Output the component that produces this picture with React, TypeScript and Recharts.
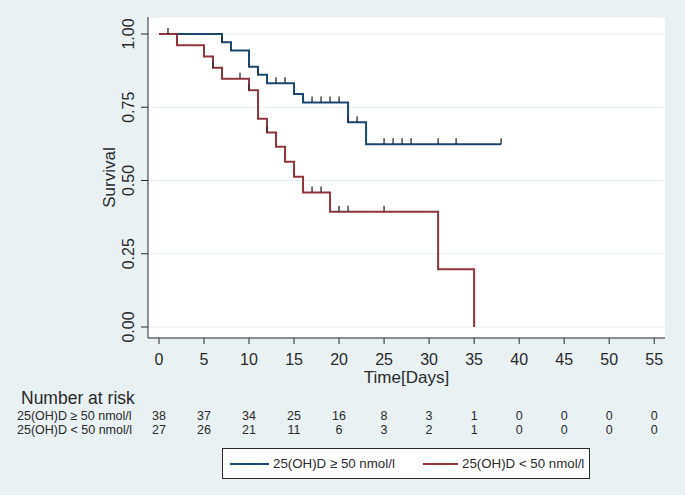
import React from "react";
import {
  ComposedChart,
  Line,
  XAxis,
  YAxis,
  CartesianGrid,
  Legend,
} from "recharts";

// Kaplan-Meier steps
const highStepTimes = [0, 7, 8, 10, 11, 12, 15, 16, 21, 23];
const highStepSurv = [1.0, 0.972, 0.944, 0.888, 0.861, 0.832, 0.795, 0.766, 0.699, 0.624];
const highCensored = [7, 11, 13, 14, 17, 18, 19, 20, 21, 22, 25, 26, 27, 28, 31, 33, 38];

const lowStepTimes = [0, 2, 5, 6, 7, 10, 11, 12, 13, 14, 15, 16, 19, 31, 35];
const lowStepSurv = [1.0, 0.962, 0.923, 0.885, 0.847, 0.808, 0.711, 0.664, 0.615, 0.564, 0.513, 0.459, 0.393, 0.197, 0.0];
const lowCensored = [1, 6, 9, 10, 12, 17, 18, 20, 21, 25];

const timeTicks = [0, 5, 10, 15, 20, 25, 30, 35, 40, 45, 50, 55];
const survTicks = [0, 0.25, 0.5, 0.75, 1];

const riskHigh = [38, 37, 34, 25, 16, 8, 3, 1, 0, 0, 0, 0];
const riskLow = [27, 26, 21, 11, 6, 3, 2, 1, 0, 0, 0, 0];

const highName = "25(OH)D \u2265 50 nmol/l";
const lowName = "25(OH)D < 50 nmol/l";

const BLUE = "#1a476f";
const RED = "#90353b";
const INK = "#2a2a2a";
const FONT = "'Liberation Sans', Arial, sans-serif";
const PLOT_BOTTOM = 338;
const ROW1_Y = 419.5;
const ROW2_Y = 434;

type Row = { t: number; s: number; censored: boolean };

// merge step points and censor marks into one list for a stepAfter line
function buildRows(times: number[], surv: number[], cens: number[]): Row[] {
  const rows: Row[] = times.map((t, i) => ({ t, s: surv[i], censored: false }));
  cens.forEach((c) => {
    const same = rows.find((r) => r.t === c);
    if (same) {
      same.censored = true;
      return;
    }
    let s = surv[0];
    times.forEach((t, i) => {
      if (t <= c) s = surv[i];
    });
    rows.push({ t: c, s, censored: true });
  });
  return rows.sort((a, b) => a.t - b.t);
}

const highRows = buildRows(highStepTimes, highStepSurv, highCensored);
const lowRows = buildRows(lowStepTimes, lowStepSurv, lowCensored);

const CensorMark = (props: any) => {
  const { cx, cy, payload, index } = props;
  if (!payload || !payload.censored) return <g key={`n${index}`} />;
  return (
    <line
      key={`c${index}`}
      x1={cx}
      x2={cx}
      y1={cy}
      y2={cy - 6}
      stroke={INK}
      strokeWidth={1.3}
    />
  );
};

const TimeTick = (props: any) => {
  const { x, payload } = props;
  const i = timeTicks.indexOf(payload.value);
  return (
    <g fontFamily={FONT}>
      <text x={x} y={PLOT_BOTTOM + 27} textAnchor="middle" fontSize={16} fill={INK}>
        {payload.value}
      </text>
      <text x={x} y={ROW1_Y} textAnchor="middle" fontSize={12.5} fill={INK}>
        {riskHigh[i]}
      </text>
      <text x={x} y={ROW2_Y} textAnchor="middle" fontSize={12.5} fill={INK}>
        {riskLow[i]}
      </text>
      {i === 0 && (
        <g>
          <text x={21} y={404} fontSize={17.5} fill={INK}>
            Number at risk
          </text>
          <text x={17} y={ROW1_Y} fontSize={12.5} fill={INK}>
            {highName}
          </text>
          <text x={17} y={ROW2_Y} fontSize={12.5} fill={INK}>
            {lowName}
          </text>
        </g>
      )}
    </g>
  );
};

const SurvTick = (props: any) => {
  const { y, payload } = props;
  return (
    <text
      transform={`translate(133.5, ${y}) rotate(-90)`}
      textAnchor="middle"
      fontSize={16}
      fontFamily={FONT}
      fill={INK}
    >
      {payload.value.toFixed(2)}
    </text>
  );
};

const SurvLabel = (props: any) => {
  const vb = props.viewBox || { y: 17, height: 321 };
  return (
    <text
      transform={`translate(115, ${vb.y + vb.height / 2}) rotate(-90)`}
      textAnchor="middle"
      fontSize={17}
      fontFamily={FONT}
      fill={INK}
    >
      Survival
    </text>
  );
};

const LegendBox = () => (
  <div
    style={{
      width: 368,
      height: 31,
      boxSizing: "border-box",
      border: `1px solid ${INK}`,
      background: "#fff",
      position: "relative",
      fontFamily: FONT,
      fontSize: 13.3,
      color: INK,
    }}
  >
    <div style={{ position: "absolute", left: 7, top: 14, width: 39, height: 2, background: BLUE }} />
    <div style={{ position: "absolute", left: 50, top: 7, lineHeight: "16px", whiteSpace: "nowrap" }}>
      {highName}
    </div>
    <div style={{ position: "absolute", left: 200, top: 14, width: 35, height: 2, background: RED }} />
    <div style={{ position: "absolute", left: 239, top: 7, lineHeight: "16px", whiteSpace: "nowrap" }}>
      {lowName}
    </div>
  </div>
);

export default function App() {
  return (
    <div
      style={{
        position: "absolute",
        left: 0,
        top: 0,
        width: 685,
        height: 495,
        background: "#e9f1f3",
      }}
    >
      <ComposedChart
        width={685}
        height={495}
        margin={{ top: 17, right: 20, bottom: 97, left: 0 }}
      >
        <CartesianGrid vertical={false} stroke="#e8eeef" fill="#ffffff" />
        <XAxis
          dataKey="t"
          type="number"
          domain={[-1.22, 56.2]}
          ticks={timeTicks}
          allowDataOverflow
          height={60}
          tickSize={6}
          stroke={INK}
          tickLine={{ stroke: INK }}
          axisLine={{ stroke: INK }}
          tick={<TimeTick />}
          label={{
            value: "Time[Days]",
            position: "insideTop",
            offset: 33,
            fontSize: 17,
            fontFamily: FONT,
            fill: INK,
          }}
        />
        <YAxis
          type="number"
          domain={[-0.0375, 1.058]}
          ticks={survTicks}
          allowDataOverflow
          width={148}
          tickSize={7}
          stroke={INK}
          tickLine={{ stroke: INK }}
          axisLine={{ stroke: INK }}
          tick={<SurvTick />}
          label={<SurvLabel />}
        />
        <Legend
          layout="vertical"
          align="center"
          verticalAlign="middle"
          wrapperStyle={{ left: 222, top: 448, width: 368, height: 31 }}
          content={<LegendBox />}
        />
        <Line
          data={highRows}
          dataKey="s"
          name={highName}
          type="stepAfter"
          stroke={BLUE}
          strokeWidth={2}
          dot={CensorMark}
          activeDot={false}
          isAnimationActive={false}
        />
        <Line
          data={lowRows}
          dataKey="s"
          name={lowName}
          type="stepAfter"
          stroke={RED}
          strokeWidth={2}
          dot={CensorMark}
          activeDot={false}
          isAnimationActive={false}
        />
      </ComposedChart>
    </div>
  );
}
